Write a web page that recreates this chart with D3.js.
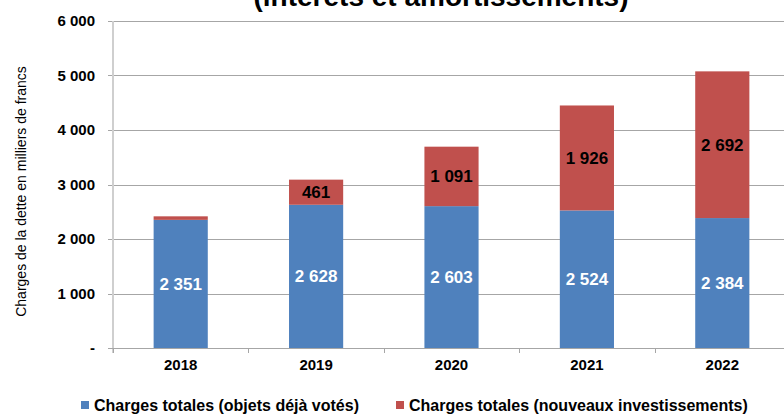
<!DOCTYPE html>
<html><head><meta charset="utf-8">
<script src="https://cdn.jsdelivr.net/npm/d3@7"></script>
<style>body{margin:0;background:#fff}svg{display:block}</style>
</head><body>
<svg id="c" width="784" height="414"></svg>
<script>
const categories = ["2018","2019","2020","2021","2022"];
const dejaVotes = [2351, 2628, 2603, 2524, 2384];
const nouveaux = [65, 461, 1091, 1926, 2692];
const yTicks = [0,1000,2000,3000,4000,5000,6000];
const seriesNames = ["Charges totales (objets déjà votés)", "Charges totales (nouveaux investissements)"];
const colors = ["#4F81BD", "#C0504D"];
const titleText = "(intérêts et amortissements)";
const yTitle = "Charges de la dette en milliers de francs";

const svg = d3.select("#c");
const font = "'Liberation Sans', Arial, sans-serif";
const fmt = v => v === 0 ? "-" : d3.format(",")(v).replace(/,/g, " ");

const x = d3.scaleBand().domain(categories).range([113, 790]).paddingInner(0.6).paddingOuter(0.3);
const y = d3.scaleLinear().domain([0, 6000]).range([348, 21]);

// title (partially cut)
svg.append("text").attr("x", 441).attr("y", 6).attr("text-anchor", "middle")
  .attr("font-family", font).attr("font-weight", "bold").attr("font-size", 28).attr("fill", "#000")
  .text(titleText);

// gridlines
svg.append("g").selectAll("line").data(yTicks.filter(d => d > 0)).join("line")
  .attr("x1", 108).attr("x2", 784).attr("y1", d => Math.round(y(d)) + 0.5).attr("y2", d => Math.round(y(d)) + 0.5)
  .attr("stroke", "#a6a6a6").attr("stroke-width", 1);

// y-axis line
svg.append("line").attr("x1", 113).attr("x2", 113).attr("y1", y(6000)).attr("y2", y(0) + 5)
  .attr("stroke", "#cfcfcf").attr("stroke-width", 2);

// y tick labels
svg.append("g").selectAll("text").data(yTicks).join("text")
  .attr("x", 95).attr("y", d => y(d)).attr("dy", "0.35em").attr("text-anchor", "end")
  .attr("font-family", font).attr("font-weight", "bold").attr("font-size", 15).attr("fill", "#000")
  .text(fmt);

// y title
svg.append("text").attr("transform", `translate(26,${(65+318)/2}) rotate(-90)`).attr("text-anchor", "middle")
  .attr("font-family", font).attr("font-size", 14).attr("fill", "#000").text(yTitle);

// bars
const stackData = categories.map((c, i) => ({cat: c, a: dejaVotes[i], b: nouveaux[i]}));
const g = svg.append("g");
g.selectAll("rect.a").data(stackData).join("rect").attr("class", "a")
  .attr("x", d => x(d.cat)).attr("width", x.bandwidth())
  .attr("y", d => y(d.a)).attr("height", d => y(0) - y(d.a)).attr("fill", colors[0]);
g.selectAll("rect.b").data(stackData).join("rect").attr("class", "b")
  .attr("x", d => x(d.cat)).attr("width", x.bandwidth())
  .attr("y", d => y(d.a + d.b)).attr("height", d => y(d.a) - y(d.a + d.b)).attr("fill", colors[1]);

// x-axis line
svg.append("line").attr("x1", 108).attr("x2", 784).attr("y1", Math.round(y(0)) + 0.5).attr("y2", Math.round(y(0)) + 0.5)
  .attr("stroke", "#a6a6a6");
// x ticks at boundaries
const step = x.step();
const bounds = categories.map(c => x(c) + x.bandwidth() / 2 - step / 2);
svg.append("g").selectAll("line").data(bounds).join("line")
  .attr("x1", d => Math.round(d) + 0.5).attr("x2", d => Math.round(d) + 0.5)
  .attr("y1", y(0)).attr("y2", y(0) + 5).attr("stroke", "#a6a6a6");

// x labels
svg.append("g").selectAll("text").data(categories).join("text")
  .attr("x", d => x(d) + x.bandwidth() / 2).attr("y", 365).attr("dy", "0.35em").attr("text-anchor", "middle")
  .attr("font-family", font).attr("font-weight", "bold").attr("font-size", 15).attr("fill", "#000")
  .text(d => d);

// value labels
g.selectAll("text.la").data(stackData).join("text").attr("class", "la")
  .attr("x", d => x(d.cat) + x.bandwidth() / 2).attr("y", d => y(d.a / 2)).attr("dy", "0.35em")
  .attr("text-anchor", "middle").attr("font-family", font).attr("font-weight", "bold").attr("font-size", 17)
  .attr("fill", "#fff").text(d => fmt(d.a));
g.selectAll("text.lb").data(stackData.filter(d => d.b > 200)).join("text").attr("class", "lb")
  .attr("x", d => x(d.cat) + x.bandwidth() / 2).attr("y", d => y(d.a + d.b / 2)).attr("dy", "0.35em")
  .attr("text-anchor", "middle").attr("font-family", font).attr("font-weight", "bold").attr("font-size", 17)
  .attr("fill", "#000").text(d => fmt(d.b));

// legend
const legX = [81, 396];
const leg = svg.append("g").selectAll("g").data(seriesNames).join("g")
  .attr("transform", (d, i) => `translate(${legX[i]},401)`);
leg.append("rect").attr("width", 8).attr("height", 8).attr("fill", (d, i) => colors[i]);
leg.append("text").attr("x", 13).attr("y", 4).attr("dy", "0.35em")
  .attr("font-family", font).attr("font-weight", "bold").attr("font-size", 16).attr("fill", "#000")
  .text(d => d);
</script>
</body></html>
